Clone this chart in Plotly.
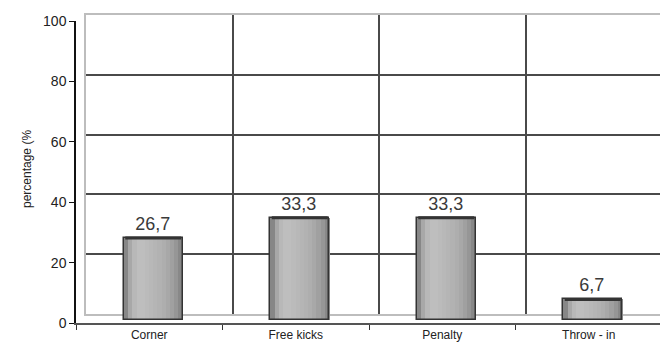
import plotly.graph_objects as go

categories = ["Corner", "Free kicks", "Penalty", "Throw - in"]
values = [26.7, 33.3, 33.3, 6.7]
y_ticks = [0, 20, 40, 60, 80, 100]
y_title = "percentage (%"

W, H = 660, 345
def px(v):  # x pixel -> paper
    return v / W
def py(v):  # y pixel -> paper
    return (H - v) / H

fig = go.Figure()

# ---- back wall (x2, y2) ----
fig.add_trace(go.Scatter(x=[0], y=[0], mode="markers", marker=dict(opacity=0),
                         xaxis="x2", yaxis="y2", hoverinfo="skip", showlegend=False))

# ---- front axes (x, y) ----
fig.add_trace(go.Scatter(x=categories, y=[0] * len(categories), mode="markers",
                         marker=dict(opacity=0), xaxis="x", yaxis="y",
                         hoverinfo="skip", showlegend=False))

# ---- cylinder bars (x3, y3) ----
shades = [135, 168, 184, 190, 190, 187, 184, 181, 178, 174, 168, 160, 150, 136]
BW = 0.40
n = len(shades)
for i, s in enumerate(shades):
    fig.add_trace(go.Bar(
        x=categories, y=values, width=BW / n + 0.004, offset=-BW / 2 + i * BW / n,
        marker=dict(color=f"rgb({s},{s},{s})", line=dict(width=0)),
        xaxis="x3", yaxis="y3", hoverinfo="skip", showlegend=False))
labels = [f"{v:.1f}".replace(".", ",") for v in values]
fig.add_trace(go.Bar(
    x=categories, y=values, width=BW, offset=-BW / 2,
    marker=dict(color="rgba(0,0,0,0)", line=dict(color="#333333", width=1.5)),
    text=labels, textposition="outside", cliponaxis=False,
    textfont=dict(family="Liberation Sans, Arial", size=18, color="#3a3a3a"),
    xaxis="x3", yaxis="y3", hoverinfo="skip", showlegend=False))
# dark rim at the top of each cylinder
fig.add_trace(go.Scatter(
    x=categories, y=values, mode="markers",
    marker=dict(symbol="line-ew", size=40, line=dict(color="#333333", width=3)),
    xaxis="x3", yaxis="y3", hoverinfo="skip", showlegend=False, cliponaxis=False))

cat_units = (660 - 76) / 146.5  # visible categories span
shift = 4 / 146.5

fig.update_layout(
    width=W, height=H,
    margin=dict(l=0, r=0, t=0, b=0, pad=0, autoexpand=False),
    paper_bgcolor="white", plot_bgcolor="rgba(0,0,0,0)",
    barmode="overlay", bargap=0,
    font=dict(family="Liberation Sans, Arial", color="#222222"),
    # back wall
    xaxis2=dict(domain=[px(86), 1.0], range=[0, (660 - 86) / 146.5], anchor="y2",
                tickvals=[1, 2, 3], showticklabels=False, ticks="",
                showgrid=True, gridcolor="#4a4a4a", gridwidth=1.5,
                showline=True, linecolor="#bdbdbd", linewidth=1.5, mirror=True,
                zeroline=False, fixedrange=True, automargin=False),
    yaxis2=dict(domain=[py(314), py(15)], range=[0, 100], anchor="x2",
                tickvals=[20, 40, 60, 80], showticklabels=False, ticks="",
                showgrid=True, gridcolor="#4a4a4a", gridwidth=1.5,
                showline=True, linecolor="#bdbdbd", linewidth=1.5,
                zeroline=False, fixedrange=True, automargin=False),
    # front axes
    xaxis=dict(domain=[px(76), 1.0], type="category", categoryorder="array",
               categoryarray=categories, range=[-0.5, -0.5 + cat_units], anchor="y",
               showgrid=False, zeroline=False, showline=True, linecolor="#555555",
               linewidth=1.5, ticks="outside", tickson="boundaries", ticklen=5,
               tickcolor="#333333", tickfont=dict(size=12, color="#222222"),
               fixedrange=True, automargin=False),
    yaxis=dict(domain=[py(323), py(21)], range=[0, 100], anchor="x",
               tickvals=y_ticks, showgrid=False, zeroline=False, showline=True,
               linecolor="#111111", linewidth=1.5, ticks="outside", ticklen=5,
               tickcolor="#111111", tickfont=dict(size=14, color="#222222"),
               fixedrange=True, automargin=False),
    # bars
    xaxis3=dict(domain=[px(76), 1.0], type="category", categoryorder="array",
                categoryarray=categories, range=[-0.5 - shift, -0.5 + cat_units - shift],
                anchor="y3", visible=False, fixedrange=True, automargin=False),
    yaxis3=dict(domain=[py(320), py(21)], range=[0, (320 - 21) / 3.07], anchor="x3",
                visible=False, fixedrange=True, automargin=False),
    annotations=[dict(text=y_title, textangle=-90, x=px(18), y=py(169),
                      xref="paper", yref="paper", showarrow=False,
                      font=dict(size=12, color="#222222"))],
)

fig.write_html("out.html")
